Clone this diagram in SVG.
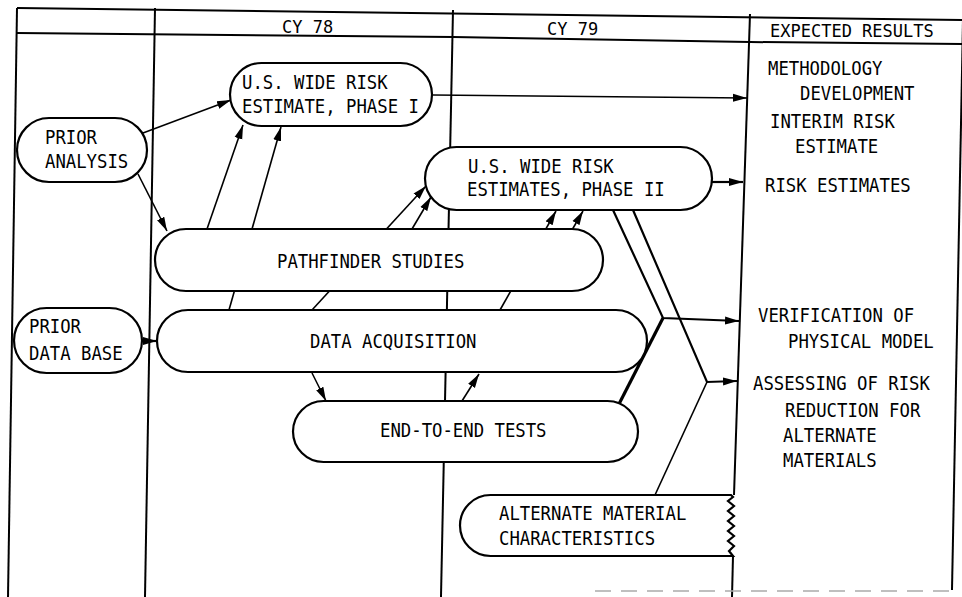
<svg xmlns="http://www.w3.org/2000/svg" width="962" height="597" viewBox="0 0 962 597">
<style>
.bg{fill:#fff}
.grid{fill:none;stroke:#000;stroke-width:2}
.node{fill:#fff;stroke:#000;stroke-width:2.2}
.c{fill:none;stroke:#000;stroke-width:1.6}
.ca{fill:none;stroke:#000;stroke-width:1.6;marker-end:url(#ah)}
.cb{fill:none;stroke:#000;stroke-width:2.2;marker-end:url(#ah)}
.thick{fill:none;stroke:#000;stroke-width:3.2}
.t{font-family:"DejaVu Sans Mono","Liberation Mono",monospace;font-size:17.3px;fill:#000}
.h{font-family:"DejaVu Sans Mono","Liberation Mono",monospace;font-size:17px;fill:#000}
</style>
<defs>
<marker id="ah" markerUnits="userSpaceOnUse" markerWidth="16" markerHeight="10" refX="14" refY="5" orient="auto">
<path d="M0,1 L14,5 L0,9 Z" fill="#000"/>
</marker>
</defs>
<rect class="bg" x="0" y="0" width="962" height="597"/>

<g id="grid">
<polyline class="grid" points="17,8 962,20"/>
<polyline class="grid" points="17,33 453,37 750,42 962,44"/>
<line class="grid" x1="17" y1="8" x2="8" y2="597"/>
<line class="grid" x1="155" y1="8" x2="145" y2="597"/>
<line class="grid" x1="453" y1="10" x2="441" y2="597"/>
<line class="grid" x1="750" y1="14" x2="734" y2="495"/>
<line class="grid" x1="733" y1="556" x2="732" y2="597"/>
<line class="grid" x1="963" y1="20" x2="952" y2="590"/>
<line x1="595" y1="591" x2="952" y2="591" stroke="#aaa" stroke-width="1.5" stroke-dasharray="16 10"/>
<text class="h" x="282" y="33">CY 78</text>
<text class="h" x="547" y="35">CY 79</text>
<text class="h" x="770" y="37">EXPECTED RESULTS</text>
</g>

<g id="connectors">
<line class="ca" x1="143" y1="133" x2="231" y2="100"/>
<line class="ca" x1="138" y1="174" x2="167" y2="231"/>
<line class="ca" x1="207" y1="229" x2="243" y2="125"/>
<line class="ca" x1="229" y1="310" x2="281" y2="127"/>
<line class="ca" x1="312" y1="310" x2="426" y2="186"/>
<line class="ca" x1="412" y1="229" x2="431" y2="197"/>
<line class="ca" x1="500" y1="310" x2="556" y2="211"/>
<line class="ca" x1="572" y1="230" x2="583" y2="211"/>
<line class="ca" x1="433" y1="95" x2="747" y2="98"/>
<line class="cb" x1="711" y1="182" x2="743" y2="182"/>
<polyline class="cb" points="613,210 663,318 739,321"/>
<polyline class="cb" points="633,210 707,382 737,381"/>
<line class="thick" x1="619" y1="404" x2="663" y2="318"/>
<line class="c" x1="655" y1="495" x2="707" y2="382"/>
<line class="cb" x1="142" y1="341" x2="157" y2="341"/>
<line class="ca" x1="312" y1="373" x2="326" y2="401"/>
<line class="ca" x1="462" y1="401" x2="479" y2="374"/>
</g>

<g id="phase1">
<rect class="node" x="230" y="63" width="202" height="63" rx="31.5"/>
<text class="t" x="242" y="89" transform="matrix(1 0 0 1.17 0 -15.13)">U.S. WIDE RISK</text>
<text class="t" x="242" y="113" transform="matrix(1 0 0 1.17 0 -19.21)">ESTIMATE, PHASE I</text>
</g>
<g id="prior-analysis">
<rect class="node" x="17" y="118" width="130" height="64" rx="32"/>
<text class="t" x="45" y="144" transform="matrix(1 0 0 1.17 0 -24.48)">PRIOR</text>
<text class="t" x="45" y="168" transform="matrix(1 0 0 1.17 0 -28.56)">ANALYSIS</text>
</g>
<g id="phase2">
<rect class="node" x="425" y="147" width="287" height="63" rx="31.5"/>
<text class="t" x="468" y="173" transform="matrix(1 0 0 1.17 0 -29.41)">U.S. WIDE RISK</text>
<text class="t" x="467" y="196" transform="matrix(1 0 0 1.17 0 -33.32)">ESTIMATES, PHASE II</text>
</g>
<g id="pathfinder">
<rect class="node" x="155" y="229" width="448" height="62" rx="31"/>
<text class="t" x="277" y="268" transform="matrix(1 0 0 1.17 0 -45.56)">PATHFINDER STUDIES</text>
</g>
<g id="data-acquisition">
<rect class="node" x="157" y="310" width="490" height="62" rx="31"/>
<text class="t" x="310" y="348" transform="matrix(1 0 0 1.17 0 -59.16)">DATA ACQUISITION</text>
</g>
<g id="prior-data-base">
<rect class="node" x="14" y="308" width="128" height="65" rx="32.5"/>
<text class="t" x="29" y="333" transform="matrix(1 0 0 1.17 0 -56.61)">PRIOR</text>
<text class="t" x="29" y="360" transform="matrix(1 0 0 1.17 0 -61.2)">DATA BASE</text>
</g>
<g id="end-to-end">
<rect class="node" x="293" y="401" width="345" height="61" rx="30.5"/>
<text class="t" x="380" y="437" transform="matrix(1 0 0 1.17 0 -74.29)">END-TO-END TESTS</text>
</g>
<g id="alternate-material">
<path class="node" d="M731,495 L490.5,495 A30.5,30.5 0 0 0 490.5,556 L733,556 L729,551 L734,546 L728,541 L734,536 L728,531 L734,526 L728,521 L734,516 L728,511 L734,506 L728,501 L733,497 Z"/>
<text class="t" x="499" y="520" transform="matrix(1 0 0 1.17 0 -88.4)">ALTERNATE MATERIAL</text>
<text class="t" x="499" y="545" transform="matrix(1 0 0 1.17 0 -92.65)">CHARACTERISTICS</text>
</g>

<g id="results">
<text class="t" x="768" y="75" transform="matrix(1 0 0 1.17 0 -12.75)">METHODOLOGY</text>
<text class="t" x="800" y="100" transform="matrix(1 0 0 1.17 0 -17)">DEVELOPMENT</text>
<text class="t" x="770" y="128" transform="matrix(1 0 0 1.17 0 -21.76)">INTERIM RISK</text>
<text class="t" x="795" y="153" transform="matrix(1 0 0 1.17 0 -26.01)">ESTIMATE</text>
<text class="t" x="765" y="192" transform="matrix(1 0 0 1.17 0 -32.64)">RISK ESTIMATES</text>
<text class="t" x="758" y="322" transform="matrix(1 0 0 1.17 0 -54.74)">VERIFICATION OF</text>
<text class="t" x="788" y="348" transform="matrix(1 0 0 1.17 0 -59.16)">PHYSICAL MODEL</text>
<text class="t" x="753" y="390" transform="matrix(1 0 0 1.17 0 -66.3)">ASSESSING OF RISK</text>
<text class="t" x="785" y="417" transform="matrix(1 0 0 1.17 0 -70.89)">REDUCTION FOR</text>
<text class="t" x="783" y="442" transform="matrix(1 0 0 1.17 0 -75.14)">ALTERNATE</text>
<text class="t" x="783" y="467" transform="matrix(1 0 0 1.17 0 -79.39)">MATERIALS</text>
</g>
</svg>
